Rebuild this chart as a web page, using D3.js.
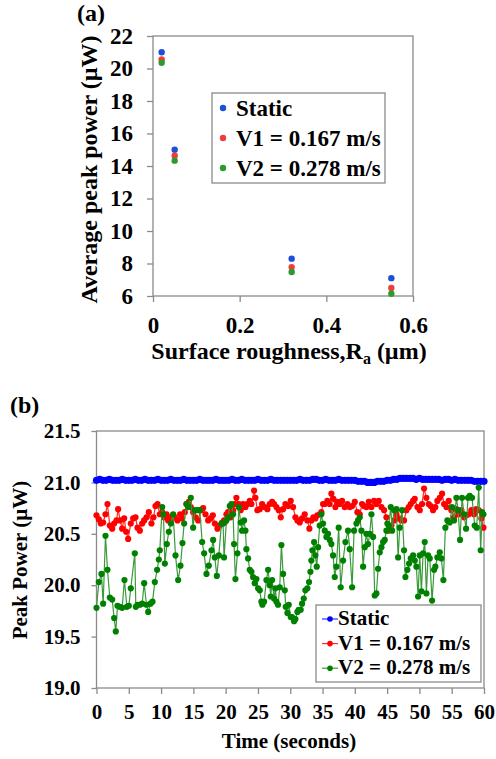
<!DOCTYPE html>
<html>
<head>
<meta charset="utf-8">
<script src="https://cdn.jsdelivr.net/npm/d3@7"></script>
<style>
html,body{margin:0;padding:0;background:#fff;}
svg text{font-family:"Liberation Serif","Times New Roman",serif;font-weight:bold;fill:#000;}
</style>
</head>
<body>
<svg id="chart" width="496" height="759"></svg>
<script>
// ---------- Panel (a) data ----------
const roughness = [0.02, 0.05, 0.32, 0.55];
const aStatic = [21.0, 15.0, 8.3, 7.1];
const aV1 = [20.55, 14.63, 7.78, 6.49];
const aV2 = [20.35, 14.33, 7.48, 6.14];
const aXTicks = [0, 0.2, 0.4, 0.6];
const aYTicks = [6, 8, 10, 12, 14, 16, 18, 20, 22];
const seriesNames = ["Static", "V1 = 0.167 m/s", "V2 = 0.278 m/s"];

// ---------- Panel (b) data ----------
const bXTicks = [0, 5, 10, 15, 20, 25, 30, 35, 40, 45, 50, 55, 60];
const bYTicks = [19.0, 19.5, 20.0, 20.5, 21.0, 21.5];

const staticT = d3.range(0, 60.01, 0.5);
const staticV = [
21.02,21.03,21.02,21.02,21.03,21.02,21.02,21.02,21.03,21.02,21.02,21.02,21.03,21.02,21.02,21.03,21.02,21.02,21.02,21.03,
21.02,21.02,21.02,21.03,21.02,21.02,21.02,21.03,21.02,21.02,21.02,21.02,21.03,21.02,21.02,21.02,21.02,21.03,21.02,21.02,
21.02,21.02,21.03,21.02,21.02,21.03,21.02,21.02,21.02,21.02,21.03,21.02,21.02,21.02,21.03,21.02,21.02,21.02,21.02,21.02,
21.02,21.02,21.02,21.03,21.02,21.02,21.02,21.03,21.03,21.02,21.02,21.03,21.02,21.02,21.02,21.03,21.02,21.02,21.02,21.02,
21.02,21.01,21.01,21.01,21.00,21.00,21.00,21.01,21.01,21.01,21.02,21.02,21.03,21.03,21.04,21.04,21.04,21.04,21.04,21.03,
21.04,21.03,21.03,21.03,21.03,21.03,21.03,21.02,21.03,21.03,21.02,21.03,21.02,21.02,21.02,21.02,21.02,21.01,21.01,21.01,21.01
];

const v1T = [
0.00,0.36,0.67,1.03,1.39,1.70,2.06,2.43,2.73,3.10,3.35,3.66,3.97,4.28,4.59,4.90,5.31,5.68,6.04,6.35,
6.71,7.07,7.38,7.74,8.10,8.51,8.82,9.13,9.44,9.80,10.17,10.47,10.84,11.09,11.40,11.71,12.13,12.54,12.95,13.26,
13.67,13.93,14.29,14.60,14.96,15.33,15.74,16.15,16.51,16.87,17.29,17.65,18.01,18.32,18.73,19.09,19.45,19.76,
19.86,20.12,20.37,20.79,21.15,21.41,21.66,22.03,22.33,22.70,23.06,23.37,23.73,23.99,24.40,24.61,24.91,25.28,25.64,26.05,
26.46,26.82,27.19,27.49,27.86,28.22,28.53,28.89,29.25,29.66,30.07,30.44,30.80,31.11,31.47,31.83,32.24,32.65,32.96,33.27,
33.58,33.89,34.20,34.56,34.82,35.08,35.34,35.75,36.11,36.37,36.68,36.99,37.30,37.66,38.02,38.43,38.85,39.21,
39.58,39.99,40.40,40.76,41.12,41.43,41.79,42.16,42.57,42.98,43.34,43.70,44.12,44.53,44.89,45.15,45.41,45.66,46.08,46.44,
46.80,47.21,47.62,47.99,48.35,48.66,49.02,49.28,49.69,50.05,50.41,50.72,51.08,51.44,51.75,52.11,52.47,52.78,53.15,53.51,
53.82,54.18,54.54,54.95,55.36,55.73,56.09,56.50,56.91,57.27,57.63,58.05,58.46,58.82,59.18,59.59,59.91
];
const v1V = [
20.68,20.64,20.60,20.61,20.69,20.79,20.58,20.55,20.60,20.63,20.74,20.63,20.55,20.65,20.52,20.45,20.60,20.65,20.66,20.56,
20.53,20.60,20.63,20.66,20.71,20.60,20.66,20.77,20.79,20.69,20.71,20.66,20.69,20.63,20.66,20.65,20.66,20.63,20.69,20.65,
20.71,20.79,20.81,20.76,20.71,20.66,20.63,20.73,20.75,20.69,20.63,20.65,20.68,20.60,20.55,20.58,20.61,20.63,
20.61,20.69,20.71,20.66,20.73,20.79,20.85,20.79,20.73,20.79,20.76,20.79,20.82,20.79,20.92,20.85,20.73,20.74,20.79,20.76,
20.74,20.79,20.81,20.79,20.76,20.73,20.66,20.74,20.79,20.77,20.82,20.76,20.66,20.63,20.61,20.65,20.69,20.63,20.55,20.63,
20.66,20.65,20.68,20.69,20.71,20.79,20.79,20.82,20.79,20.89,20.84,20.76,20.81,20.79,20.82,20.76,20.79,20.76,
20.77,20.81,20.71,20.69,20.79,20.77,20.76,20.81,20.76,20.82,20.79,20.82,20.76,20.73,20.66,20.53,20.55,20.58,20.63,20.69,
20.65,20.63,20.63,20.73,20.76,20.79,20.82,20.84,20.76,20.73,20.79,20.94,20.85,20.79,20.77,20.73,20.76,20.82,20.85,20.89,
20.79,20.76,20.82,20.73,20.66,20.74,20.69,20.73,20.66,20.68,20.69,20.73,20.69,20.74,20.73,20.65,20.56
];

const v2T = [
0.00,0.36,0.77,1.03,1.39,1.70,2.06,2.43,2.73,2.99,3.25,3.61,3.97,4.33,4.70,5.01,5.31,5.93,6.09,6.35,
6.71,7.07,7.38,7.74,8.00,8.36,8.67,9.03,9.39,9.65,9.80,10.17,10.37,10.58,10.89,11.20,11.51,11.87,12.23,12.64,
13.00,13.31,13.57,13.93,14.19,14.60,14.96,15.22,15.63,16.00,16.36,16.67,17.03,17.39,17.80,18.06,18.32,18.63,18.94,19.35,
19.60,19.75,20.12,20.37,20.63,20.89,21.15,21.30,21.51,21.82,22.03,22.33,22.54,22.85,23.06,23.21,23.47,23.73,23.99,24.24,
24.50,24.76,25.02,25.28,25.53,25.69,25.95,26.31,26.57,26.82,26.98,27.19,27.49,27.70,27.86,28.11,28.37,28.63,28.89,29.15,
29.30,29.56,29.77,30.07,30.28,30.59,30.80,31.11,31.31,31.62,31.83,32.09,32.34,32.65,32.91,33.12,33.27,33.43,33.69,33.89,
34.10,34.31,34.56,34.82,35.08,35.34,35.60,35.85,36.11,36.37,36.63,36.89,37.14,37.50,37.81,38.18,38.54,38.95,
39.21,39.58,39.88,40.25,40.50,40.76,41.02,41.28,41.54,41.79,42.05,42.31,42.57,42.83,43.08,43.34,43.60,43.86,44.12,44.37,
44.63,44.89,45.04,45.25,45.56,45.77,46.08,46.44,46.70,46.95,47.31,47.62,47.83,48.14,48.40,48.66,49.02,49.28,49.53,49.79,
50.05,50.31,50.57,50.82,51.08,51.34,51.60,51.96,52.27,52.47,52.78,53.15,53.40,53.71,54.02,54.33,54.69,55.05,55.36,55.73,
55.98,56.29,56.60,56.91,57.22,57.53,57.79,58.15,58.56,58.87,59.18,59.49,59.70,59.91
];
const v2V = [
19.78,20.03,20.11,19.82,20.48,20.15,19.88,19.86,19.68,19.55,19.80,19.79,19.78,20.05,19.79,19.80,19.97,20.31,19.79,19.81,
19.81,19.82,20.02,19.81,19.74,19.82,19.84,20.03,20.15,20.25,20.34,20.76,20.69,20.21,20.40,20.52,20.60,20.69,20.29,20.05,
20.19,20.41,20.60,20.79,20.76,20.85,20.56,20.73,20.73,20.73,20.42,20.31,20.11,20.19,20.34,20.44,20.27,20.09,20.29,20.60,
20.60,20.27,20.63,20.66,20.77,20.79,20.69,20.40,20.06,20.31,20.76,20.61,20.53,20.63,20.53,20.35,20.26,20.15,20.13,20.08,
20.02,20.06,19.97,19.95,19.84,19.81,19.84,20.05,20.15,20.00,19.89,20.05,19.87,19.97,19.84,19.81,19.98,20.39,20.11,19.95,
19.79,19.73,19.81,19.69,19.69,19.65,19.67,19.74,19.76,19.76,19.82,19.87,19.95,19.97,20.03,20.13,20.24,20.34,20.42,20.29,
20.18,20.37,20.58,20.69,20.60,20.53,20.47,20.50,20.44,20.40,20.29,20.08,20.18,20.56,19.98,20.24,20.42,20.53,
20.35,19.98,20.53,20.60,20.63,20.66,20.53,20.18,20.37,20.50,20.40,20.50,20.69,20.47,19.90,19.92,20.16,20.32,20.37,20.42,
20.44,20.53,20.60,20.58,20.76,20.53,20.73,20.74,20.27,20.56,20.73,20.34,20.08,20.15,20.21,20.26,20.29,20.24,20.18,19.89,
20.29,19.94,20.31,20.42,19.92,20.29,20.26,19.85,20.15,20.18,20.27,20.32,20.26,20.05,20.56,20.63,20.61,20.76,20.63,20.85,
20.73,20.44,20.85,20.69,20.55,20.85,20.87,20.85,20.58,20.56,20.95,20.34,20.71,20.69
];

// ---------- styling ----------
const frameColor = "#8a8a8a";
const aColors = ["#1f4fd8", "#f03c3c", "#2e9a2e"];
const bMarker = ["#0000ff", "#ff0000", "#008000"];
const bLine = ["#3030ff", "#ff2a2a", "#3a9a3a"];

const svg = d3.select("#chart");
svg.append("rect").attr("width", 496).attr("height", 759).attr("fill", "#fff");

function styleAxis(g, fs) {
  g.select(".domain").remove();
  g.selectAll(".tick line").attr("stroke", frameColor).attr("stroke-width", 1.3);
  g.selectAll(".tick text").style("font-size", fs + "px")
    .style("font-family", '"Liberation Serif","Times New Roman",serif').style("font-weight", "bold").attr("fill", "#000");
}

// ================= Panel (a) =================
const xA = d3.scaleLinear().domain([0, 0.6]).range([153, 413]);
const yA = d3.scaleLinear().domain([6, 22]).range([296, 36]);

svg.append("g").attr("transform", "translate(0,296)")
  .call(d3.axisBottom(xA).tickValues(aXTicks).tickFormat(d => d === 0 ? "0" : d3.format(".1f")(d)).tickSize(6).tickPadding(15))
  .call(g => styleAxis(g, 23));
svg.append("g").attr("transform", "translate(153,0)")
  .call(d3.axisLeft(yA).tickValues(aYTicks).tickFormat(d3.format("d")).tickSize(6).tickPadding(14))
  .call(g => styleAxis(g, 23));

svg.append("rect").attr("x", xA(0)).attr("y", yA(22)).attr("width", xA(0.6) - xA(0)).attr("height", yA(6) - yA(22))
  .attr("fill", "none").attr("stroke", frameColor).attr("stroke-width", 1.3);

[aStatic, aV1, aV2].forEach((vals, si) => {
  svg.append("g").selectAll("circle").data(roughness).join("circle")
    .attr("cx", (d) => xA(d)).attr("cy", (d, i) => yA(vals[i])).attr("r", 3.2).attr("fill", aColors[si]);
});

// legend a
const legA = svg.append("g");
legA.append("rect").attr("x", 212).attr("y", 93).attr("width", 173).attr("height", 90)
  .attr("fill", "#fff").attr("stroke", frameColor).attr("stroke-width", 1.3);
seriesNames.forEach((n, i) => {
  legA.append("circle").attr("cx", 223).attr("cy", 108 + i * 30).attr("r", 3.2).attr("fill", aColors[i]);
  legA.append("text").attr("x", 236).attr("y", 115.5 + i * 30).style("font-size", "23px").text(n);
});

svg.append("text").attr("x", 77).attr("y", 21).style("font-size", "24px").text("(a)");
svg.append("text").attr("transform", "translate(97,169.5) rotate(-90)").attr("text-anchor", "middle")
  .style("font-size", "24px").text("Average peak power (\u00B5W)");
const xt = svg.append("text").attr("x", 289).attr("y", 359).attr("text-anchor", "middle").style("font-size", "24px");
xt.append("tspan").text("Surface roughness,R");
xt.append("tspan").attr("dy", 5).style("font-size", "16px").text("a");
xt.append("tspan").attr("dy", -5).text(" (\u00B5m)");

// ================= Panel (b) =================
const xB = d3.scaleLinear().domain([0, 60]).range([96.5, 484]);
const yB = d3.scaleLinear().domain([19, 21.5]).range([688, 431]);

svg.append("g").attr("transform", "translate(0,688)")
  .call(d3.axisBottom(xB).tickValues(bXTicks).tickFormat(d3.format("d")).tickSize(6).tickPadding(10))
  .call(g => styleAxis(g, 21));
svg.append("g").attr("transform", "translate(96.5,0)")
  .call(d3.axisLeft(yB).tickValues(bYTicks).tickFormat(d3.format(".1f")).tickSize(5).tickPadding(11))
  .call(g => styleAxis(g, 21));

svg.append("rect").attr("x", xB(0)).attr("y", yB(21.5)).attr("width", xB(60) - xB(0)).attr("height", yB(19) - yB(21.5))
  .attr("fill", "none").attr("stroke", frameColor).attr("stroke-width", 1.3);

const bSeries = [
  { t: staticT, v: staticV, r: 3.6 },
  { t: v1T, v: v1V, r: 3.1 },
  { t: v2T, v: v2V, r: 3.1 }
];
const line = d3.line().x(d => xB(d[0])).y(d => yB(d[1]));
bSeries.forEach((s, si) => {
  const pts = s.t.map((t, i) => [t, s.v[i]]);
  const g = svg.append("g");
  g.append("path").attr("d", line(pts)).attr("fill", "none").attr("stroke", bLine[si]).attr("stroke-width", 1.2);
  g.selectAll("circle").data(pts).join("circle")
    .attr("cx", d => xB(d[0])).attr("cy", d => yB(d[1])).attr("r", s.r).attr("fill", bMarker[si]);
});

// legend b
const legB = svg.append("g");
legB.append("rect").attr("x", 316).attr("y", 605).attr("width", 165).attr("height", 77)
  .attr("fill", "#fff").attr("stroke", frameColor).attr("stroke-width", 1.3);
seriesNames.forEach((n, i) => {
  const cy = 619 + i * 24.6;
  legB.append("line").attr("x1", 322).attr("x2", 338).attr("y1", cy).attr("y2", cy).attr("stroke", bLine[i]).attr("stroke-width", 1.2);
  legB.append("circle").attr("cx", 330).attr("cy", cy).attr("r", 2.8).attr("fill", bMarker[i]);
  legB.append("text").attr("x", 338).attr("y", cy + 6).style("font-size", "21px").text(n);
});

svg.append("text").attr("x", 10).attr("y", 413).style("font-size", "24px").text("(b)");
svg.append("text").attr("transform", "translate(27,560) rotate(-90)").attr("text-anchor", "middle")
  .style("font-size", "21px").text("Peak Power (\u00B5W)");
svg.append("text").attr("x", 289).attr("y", 748).attr("text-anchor", "middle").style("font-size", "21px").text("Time (seconds)");
</script>
</body>
</html>
